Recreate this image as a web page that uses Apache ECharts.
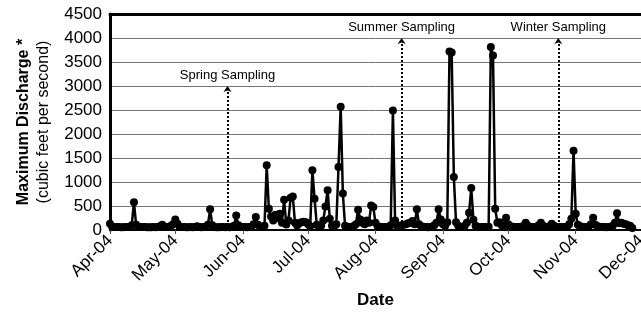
<!DOCTYPE html>
<html>
<head>
<meta charset="utf-8">
<script src="https://cdn.jsdelivr.net/npm/echarts@6/dist/echarts.min.js"></script>
<style>
  html, body { margin: 0; padding: 0; background: #fff; }
  #chart { width: 641px; height: 322px; }
</style>
</head>
<body>
<div id="chart"></div>
<script>
// daily maximum discharge (cfs), one array per month, starting 1 Apr 2004
const apr = [130, 70, 60, 60, 60, 55, 55, 60, 60, 65, 100, 580, 110, 70, 60, 60, 60, 55, 55, 55, 60, 55, 60, 80, 110, 70, 60, 60, 90, 120]
const may = [220, 130, 70, 60, 60, 55, 55, 60, 55, 60, 80, 60, 55, 60, 70, 110, 430, 100, 60, 55, 55, 60, 60, 55, 60, 55, 60, 90, 300, 100, 70]
const jun = [60, 60, 55, 60, 70, 120, 270, 110, 70, 60, 90, 1350, 443, 280, 200, 318, 250, 340, 150, 632, 115, 200, 674, 700, 150, 94, 140, 163, 170, 163]
const jul = [120, 80, 1245, 653, 110, 80, 90, 200, 492, 827, 234, 90, 80, 120, 1315, 2570, 758, 90, 70, 65, 70, 80, 120, 423, 220, 150, 120, 200, 150, 513, 477]
const aug = [150, 80, 70, 65, 60, 60, 65, 100, 2487, 200, 90, 80, 100, 110, 120, 140, 150, 185, 120, 430, 120, 80, 70, 60, 55, 60, 60, 100, 150, 430, 220]
const sep = [120, 90, 163, 3720, 3700, 1105, 160, 90, 70, 65, 90, 150, 360, 875, 213, 90, 70, 65, 60, 60, 60, 70, 3813, 3638, 443, 150, 163, 100, 90, 255]
const oct = [120, 80, 70, 65, 60, 60, 65, 90, 150, 90, 70, 65, 60, 70, 100, 150, 90, 70, 65, 80, 130, 90, 70, 65, 60, 60, 60, 70, 120, 234, 1650]
const nov = [340, 110, 80, 70, 65, 60, 80, 120, 255, 110, 80, 70, 60, 60, 55, 60, 70, 90, 150, 350, 140, 150, 130, 120, 100, 90, 40]

const samplingNames = ['Spring Sampling', 'Summer Sampling', 'Winter Sampling']
const samplingDates = [[2004, 4, 25], [2004, 7, 13], [2004, 9, 24]]
const samplingTops = [3000, 4000, 4000]

const monthNames = ['Jan', 'Feb', 'Mar', 'Apr', 'May', 'Jun', 'Jul', 'Aug', 'Sep', 'Oct', 'Nov', 'Dec']

const values = [].concat(apr, may, jun, jul, aug, sep, oct, nov)
const seriesData = values.map((v, i) => [new Date(2004, 3, 1 + i).getTime(), v])

const markLines = samplingNames.map((name, i) => {
  const t = new Date(samplingDates[i][0], samplingDates[i][1], samplingDates[i][2]).getTime()
  return [
    { name: name, coord: [t, 0] },
    { coord: [t, samplingTops[i]] }
  ]
})

const font = 'Arial, "Liberation Sans", sans-serif'
const chart = echarts.init(document.getElementById('chart'))

chart.setOption({
  animation: false,
  grid: {
    left: 110,
    right: 0,
    top: 14,
    bottom: 92,
    containLabel: false,
    outerBoundsMode: 'none'
  },
  xAxis: [{
    type: 'time',
    min: new Date(2004, 3, 1).getTime(),
    max: new Date(2004, 11, 1).getTime(),
    splitNumber: 8,
    maxInterval: 31 * 86400000,
    minInterval: 28 * 86400000,
    name: 'Date',
    nameLocation: 'middle',
    nameGap: 62,
    nameTextStyle: { color: '#000', fontSize: 17, fontWeight: 'bold', fontFamily: font },
    axisLine: { lineStyle: { color: '#000', width: 2 } },
    axisTick: { show: true, length: 4, lineStyle: { color: '#555' } },
    splitLine: { show: false },
    axisLabel: {
      rotate: 45,
      color: '#000',
      fontSize: 17,
      fontFamily: font,
      margin: 8,
      showMinLabel: true,
      showMaxLabel: true,
      hideOverlap: false,
      formatter: function (v) {
        const d = new Date(v)
        return monthNames[d.getMonth()] + '-' + String(d.getFullYear()).slice(2)
      }
    }
  }, {
    type: 'value',
    position: 'top',
    axisLine: { show: true, onZero: false, lineStyle: { color: '#000', width: 3 } },
    axisTick: { show: false },
    axisLabel: { show: false },
    splitLine: { show: false }
  }],
  yAxis: {
    type: 'value',
    min: 0,
    max: 4500,
    interval: 500,
    name: '{b|Maximum Discharge *}\n{n|(cubic feet per second)}',
    nameLocation: 'middle',
    nameRotate: 90,
    nameGap: 56,
    nameTextStyle: {
      color: '#000',
      fontFamily: font,
      rich: {
        b: { fontSize: 16, fontWeight: 'bold', fontFamily: font, color: '#000', lineHeight: 20 },
        n: { fontSize: 16, fontFamily: font, color: '#000', lineHeight: 20 }
      }
    },
    axisLine: { show: true, lineStyle: { color: '#000', width: 3 } },
    axisTick: { show: false },
    axisLabel: {
      color: '#000',
      fontSize: 17,
      fontFamily: font,
      margin: 8,
      formatter: function (v) { return String(v) }
    },
    splitLine: { lineStyle: { color: '#777', width: 1 } }
  },
  series: [{
    type: 'line',
    data: seriesData,
    symbol: 'circle',
    symbolSize: 8,
    showAllSymbol: true,
    itemStyle: { color: '#000' },
    lineStyle: { color: '#000', width: 2.5 },
    markLine: {
      silent: true,
      symbol: ['none', 'arrow'],
      symbolSize: [6, 6],
      lineStyle: { color: '#000', type: 'dotted', width: 2 },
      label: {
        show: true,
        position: 'end',
        formatter: '{b}',
        color: '#000',
        fontSize: 13,
        fontFamily: font,
        distance: 4
      },
      data: markLines
    }
  }]
})
</script>
</body>
</html>
